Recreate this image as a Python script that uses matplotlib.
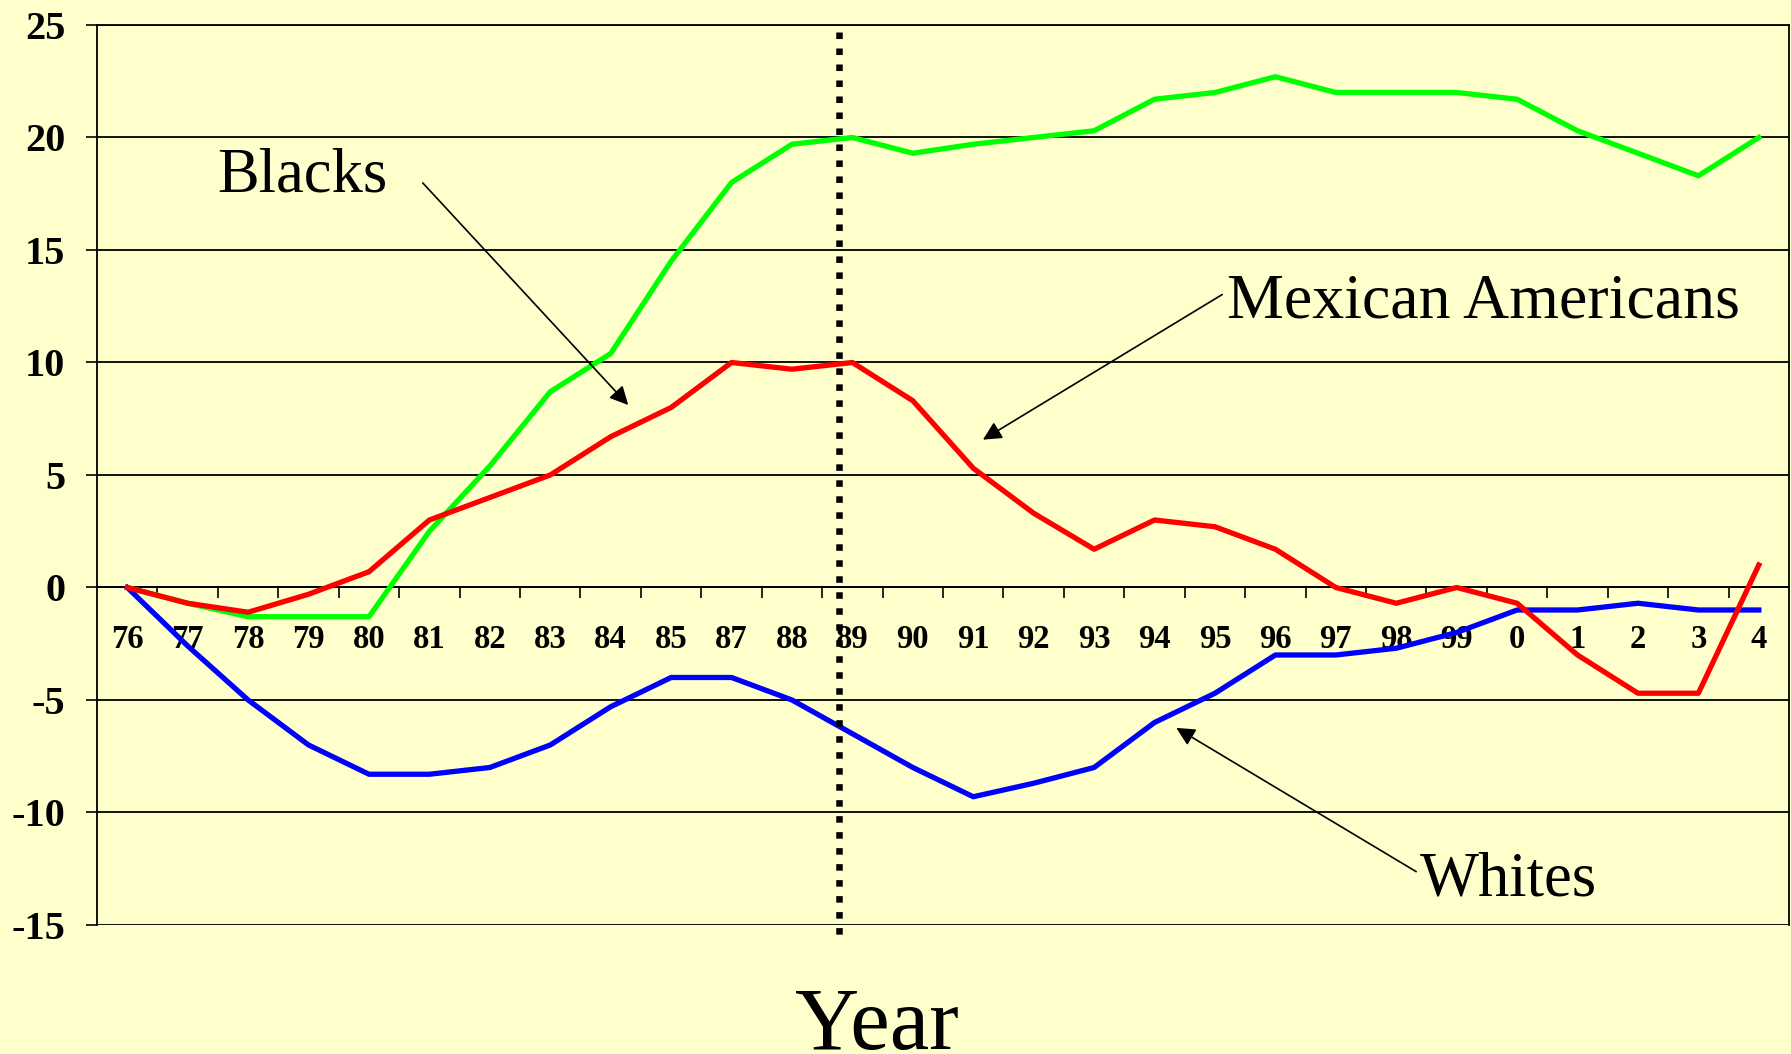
import numpy as np
from matplotlib import pyplot as plt
from matplotlib.ticker import FixedLocator

# survey years (86 is not in the series)
years = ['76', '77', '78', '79', '80', '81', '82', '83', '84', '85', '87', '88', '89',
         '90', '91', '92', '93', '94', '95', '96', '97', '98', '99', '0', '1', '2', '3', '4']

blacks = [0, -0.7, -1.3, -1.3, -1.3, 2.5, 5.4, 8.7, 10.4, 14.5, 18.0, 19.7, 20.0,
          19.3, 19.7, 20.0, 20.3, 21.7, 22.0, 22.7, 22.0, 22.0, 22.0, 21.7, 20.3, 19.3, 18.3, 20.0]
mexican = [0, -0.7, -1.1, -0.3, 0.7, 3.0, 4.0, 5.0, 6.7, 8.0, 10.0, 9.7, 10.0,
           8.3, 5.3, 3.3, 1.7, 3.0, 2.7, 1.7, 0.0, -0.7, 0.0, -0.7, -3.0, -4.7, -4.7, 1.0]
whites = [0, -2.6, -5.0, -7.0, -8.3, -8.3, -8.0, -7.0, -5.3, -4.0, -4.0, -5.0, -6.5,
          -8.0, -9.3, -8.7, -8.0, -6.0, -4.7, -3.0, -3.0, -2.7, -2.0, -1.0, -1.0, -0.7, -1.0, -1.0]

yticks = [-15, -10, -5, 0, 5, 10, 15, 20, 25]
split_pos = 11.77   # dotted marker just before 89

bg = '#FFFFCC'
serif = 'Liberation Serif'

fig = plt.figure(figsize=(17.91, 10.54), dpi=100, facecolor=bg)
ax = fig.add_axes([0.0542, 0.1224, 0.9447, 0.8539], facecolor=bg)

x = np.arange(len(years))
ax.plot(x, blacks, color='#00FF00', lw=3.8, zorder=3)
ax.plot(x, whites, color='#0000FF', lw=3.8, zorder=3)
ax.plot(x, mexican, color='#FF0000', lw=3.8, zorder=4)

ax.set_xlim(-0.5, len(years) - 0.5)
ax.set_ylim(-15, 25)

# horizontal grid
for v in yticks:
    ax.axhline(v, color='black', lw=1.3, zorder=1)

# spines
ax.spines['bottom'].set_position(('data', 0))
for s in ax.spines.values():
    s.set_color('black')
    s.set_linewidth(1.3)

# x axis: labels under the zero line, ticks between categories
ax.xaxis.set_major_locator(FixedLocator(x))
ax.set_xticklabels(years)
ax.xaxis.set_minor_locator(FixedLocator(x[:-1] + 0.5))
ax.tick_params(axis='x', which='major', length=0, pad=26)
ax.tick_params(axis='x', which='minor', length=8, width=1.2, direction='out', color='black')
for lab in ax.get_xticklabels():
    lab.set_fontfamily(serif)
    lab.set_fontweight('bold')
    lab.set_fontsize(23.5)

ax.set_yticks(yticks)
ax.set_yticklabels([str(v) for v in yticks])
ax.tick_params(axis='y', length=8, width=1.2, pad=15, direction='out')
for lab in ax.get_yticklabels():
    lab.set_fontfamily(serif)
    lab.set_fontweight('bold')
    lab.set_fontsize(29)

# dotted divider
ax.plot([split_pos, split_pos], [24.7, -15.45], color='black', lw=4.7,
        linestyle=(0, (1, 1.45)), dash_capstyle='butt', clip_on=False, zorder=5)

# labels with arrows
arrow = dict(arrowstyle='-|>', color='black', lw=1.2, mutation_scale=28,
             shrinkA=0, shrinkB=0)
ax.text(1.49, 17.58, 'Blacks', fontsize=45, family=serif, va='baseline', ha='left')
ax.annotate('', xy=(8.29, 8.11), xytext=(4.89, 17.98), arrowprops=arrow)

ax.text(18.2, 11.98, 'Mexican Americans', fontsize=46, family=serif, va='baseline', ha='left')
ax.annotate('', xy=(14.16, 6.57), xytext=(18.12, 13.02), arrowprops=arrow)

ax.text(21.39, -13.67, 'Whites', fontsize=45, family=serif, va='baseline', ha='left')
ax.annotate('', xy=(17.36, -6.24), xytext=(21.33, -12.63), arrowprops=arrow)

fig.text(877 / 1791, 1 - 1049 / 1054, 'Year', ha='center', va='baseline',
         fontsize=64, family=serif)

fig.savefig('out.png', dpi=100, facecolor=bg)
